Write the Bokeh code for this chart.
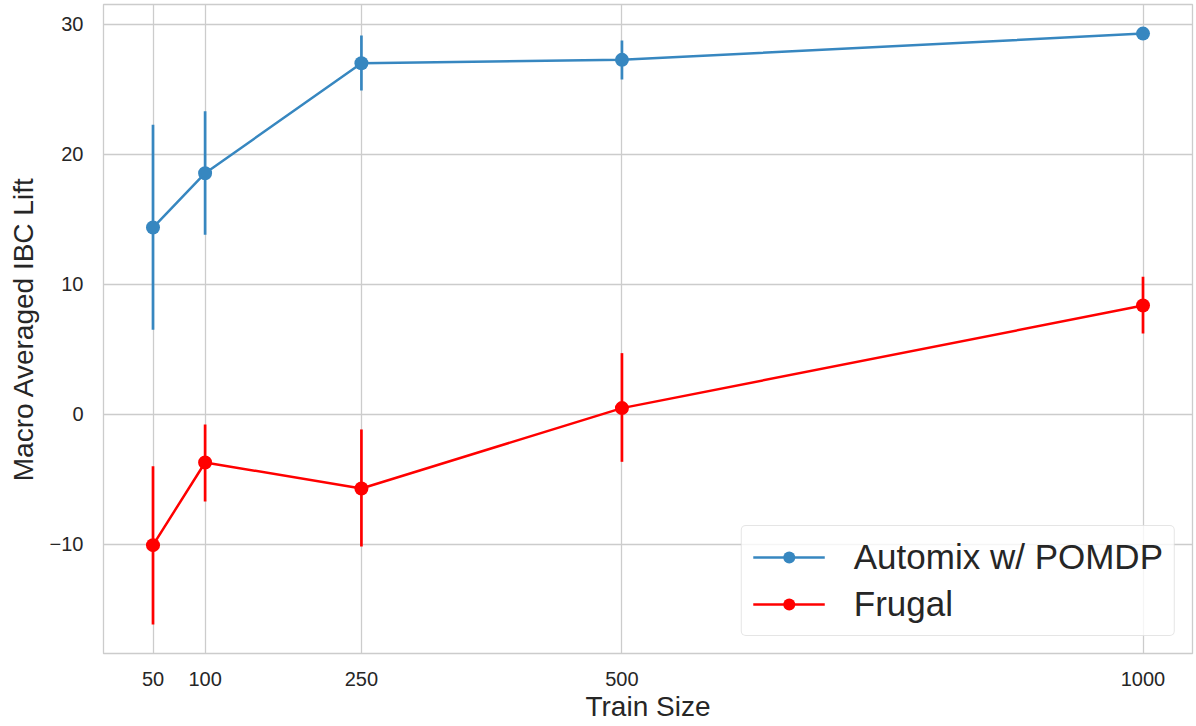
from bokeh.plotting import figure
from bokeh.models import FixedTicker, Legend, LegendItem, Range1d
from bokeh.embed import file_html
from bokeh.resources import INLINE

# ---- data ----
train_size = [50, 100, 250, 500, 1000]

automix_mean = [14.38, 18.56, 27.02, 27.28, 29.30]
automix_lo = [6.51, 13.82, 24.92, 25.77, 29.05]
automix_hi = [22.28, 23.33, 29.15, 28.77, 29.55]

frugal_mean = [-10.05, -3.69, -5.69, 0.49, 8.38]
frugal_lo = [-16.15, -6.69, -10.15, -3.64, 6.23]
frugal_hi = [-3.98, -0.77, -1.15, 4.72, 10.60]

x_ticks = [50, 100, 250, 500, 1000]
y_ticks = [-10, 0, 10, 20, 30]

series_names = ["Automix w/ POMDP", "Frugal"]
colors = ["#3787c0", "#ff0000"]

FONT = "Liberation Sans"
TXT = "#262626"
GRID = "#cccccc"

p = figure(
    width=1196, height=726,
    output_backend="svg", toolbar_location=None,
    x_range=Range1d(2.5, 1047.5), y_range=Range1d(-18.385, 31.538),
    min_border_left=103, min_border_right=4, min_border_top=4, min_border_bottom=73,
)
p.background_fill_color = "white"
p.border_fill_color = "white"
p.outline_line_color = GRID
p.outline_line_width = 1.3

for ax in (p.xaxis[0], p.yaxis[0]):
    ax.axis_line_color = None
    ax.major_tick_line_color = None
    ax.minor_tick_line_color = None
    ax.major_tick_out = 0
    ax.major_tick_in = 0
    ax.minor_tick_out = 0
    ax.major_label_text_font = FONT
    ax.major_label_text_font_size = "20px"
    ax.major_label_text_color = TXT
    ax.axis_label_text_font = FONT
    ax.axis_label_text_font_size = "28px"
    ax.axis_label_text_font_style = "normal"
    ax.axis_label_text_color = TXT

p.xaxis[0].ticker = FixedTicker(ticks=x_ticks)
p.yaxis[0].ticker = FixedTicker(ticks=y_ticks)
p.yaxis[0].major_label_overrides = {t: (("\u2212" + str(-t)) if t < 0 else str(t)) for t in y_ticks}
p.xaxis[0].axis_label = "Train Size"
p.yaxis[0].axis_label = "Macro Averaged IBC Lift"
p.xaxis[0].major_label_standoff = 18
p.xaxis[0].axis_label_standoff = 2
p.yaxis[0].major_label_standoff = 20
p.yaxis[0].axis_label_standoff = 8

p.xgrid[0].ticker = FixedTicker(ticks=x_ticks)
p.ygrid[0].ticker = FixedTicker(ticks=y_ticks)
for g in (p.xgrid[0], p.ygrid[0]):
    g.grid_line_color = GRID
    g.grid_line_width = 1.3

items = []
for name, col, mean, lo, hi in [
    (series_names[0], colors[0], automix_mean, automix_lo, automix_hi),
    (series_names[1], colors[1], frugal_mean, frugal_lo, frugal_hi),
]:
    p.segment(x0=train_size, y0=lo, x1=train_size, y1=hi, line_color=col, line_width=2.7)
    ln = p.line(train_size, mean, line_color=col, line_width=2.5)
    sc = p.scatter(train_size, mean, size=14, fill_color=col, line_color=col, line_width=0)
    items.append(LegendItem(label=name, renderers=[ln, sc]))

legend = Legend(items=items, location="bottom_right")
legend.margin = 17
legend.padding = 11
legend.spacing = 7
legend.glyph_width = 72
legend.glyph_height = 30
legend.label_height = 40
legend.label_standoff = 29
legend.label_text_font = FONT
legend.label_text_font_size = "35px"
legend.label_text_color = TXT
legend.background_fill_color = "white"
legend.background_fill_alpha = 0.8
legend.border_line_color = GRID
legend.border_line_width = 1.3
try:
    legend.border_radius = 5
except Exception:
    pass
p.add_layout(legend, "center")

open("out.html", "w").write(file_html(p, INLINE))
